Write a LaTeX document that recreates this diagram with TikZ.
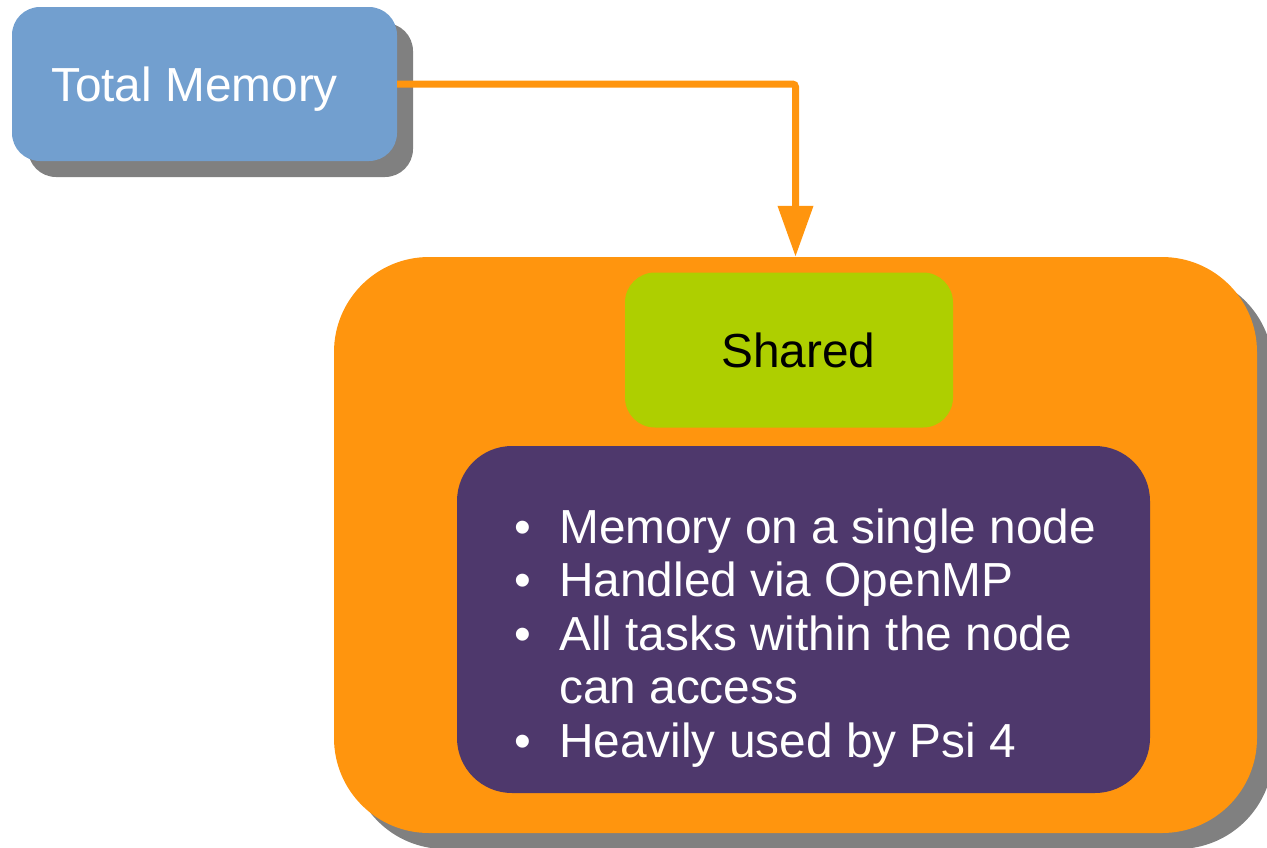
\documentclass[tikz,border=0pt]{standalone}
\usepackage{fontspec}
\setmainfont{Liberation Sans}
\usetikzlibrary{arrows.meta,shadows}

\definecolor{memblue}{HTML}{729FCF}
\definecolor{memorange}{HTML}{FF950E}
\definecolor{memgreen}{HTML}{AECF00}
\definecolor{mempurple}{HTML}{4E386C}
\definecolor{memshadow}{HTML}{808080}

\tikzset{
  bigtext/.style={font=\fontsize{47.8}{53.6}\selectfont},
  boxshadow/.style={drop shadow={shadow xshift=16pt, shadow yshift=-16pt,
                                 fill=memshadow, opacity=1}},
  topbox/.style={rectangle, rounded corners=28pt, fill=memblue, text=white,
                 bigtext, boxshadow, minimum width=385pt, minimum height=154pt,
                 inner sep=0pt, text height=34pt, text depth=0pt},
  outerbox/.style={rectangle, rounded corners=95pt, fill=memorange, boxshadow,
                   minimum width=923pt, minimum height=576pt, inner sep=0pt},
  labelbox/.style={rectangle, rounded corners=30pt, fill=memgreen, text=black,
                   bigtext, minimum width=328pt, minimum height=155pt,
                   inner sep=0pt, text height=34pt, text depth=0pt},
  listbox/.style={rectangle, rounded corners=55pt, fill=mempurple,
                  minimum width=693pt, minimum height=347pt, inner sep=0pt},
  listtext/.style={text=white, bigtext, inner sep=0pt, anchor=base west},
  flow/.style={draw=memorange, line width=7pt, rounded corners=3pt,
               -{Triangle[length=51pt,width=34pt]}},
}

\newcommand{\itembullet}{\makebox[45pt][l]{\textbullet}}

\begin{document}
\begin{tikzpicture}[x=1pt, y=-1pt]
  \useasboundingbox (0,0) rectangle (1267,847);
  \clip (0,0) rectangle (1267,847);

  % source box
  \node[topbox] (tm) at (204.5,84) {Total Memory\hspace*{20pt}};

  % memory container with its title and description
  \node[outerbox] (outer) at (795.5,545) {};
  \node[labelbox] (shared) at (789,350) {\hspace*{19pt}Shared};
  \node[listbox] (desc) at (803.5,619.5) {};
  \node[listtext] (items) at (514,543) {%
    \begin{tabular}[t]{@{}l@{}l@{}}
      \itembullet & Memory on a single node\\
      \itembullet & Handled via OpenMP\\
      \itembullet & All tasks within the node\\
                  & can access\\
      \itembullet & Heavily used by Psi 4
    \end{tabular}};

  % connector
  \draw[flow] (tm.east) -| (outer.north);
\end{tikzpicture}
\end{document}
